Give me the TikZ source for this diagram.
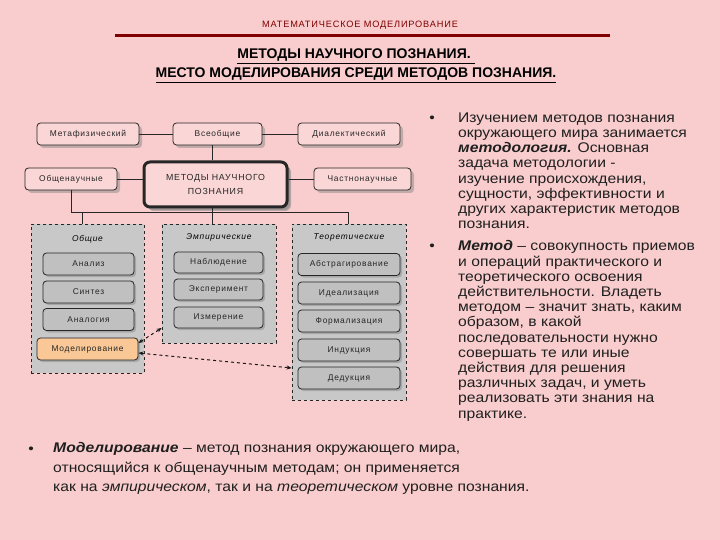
\documentclass[tikz,border=0pt]{standalone}
\usepackage{fontspec}
\setmainfont{Liberation Sans}
\newfontfamily\bodyfont{Liberation Sans}[FakeStretch=1.12]
\newfontfamily\diafont{Liberation Sans}[LetterSpace=9]
\usetikzlibrary{shadows,arrows.meta}
\definecolor{bgpink}{RGB}{249,205,205}
\definecolor{boxpink}{RGB}{251,214,214}
\definecolor{grpgray}{RGB}{200,200,200}
\definecolor{itemgray}{RGB}{192,192,192}
\definecolor{modorange}{RGB}{250,200,150}
\definecolor{maroon}{RGB}{128,0,0}
\tikzset{
  dia/.style={font=\diafont\fontsize{8.4}{10}\selectfont, text=black!85},
  pinkbox/.style={dia, draw=black!85, line width=0.8pt, rounded corners=3.5pt, fill=boxpink,
    drop shadow={shadow xshift=3pt, shadow yshift=-3pt, opacity=0.45}, inner sep=1pt},
  grpbox/.style={draw=black!85, dashed, line width=0.7pt, fill=grpgray, inner sep=0pt},
  itembox/.style={dia, draw=black!85, line width=0.8pt, rounded corners=3.5pt, fill=itemgray,
    drop shadow={shadow xshift=2pt, shadow yshift=-2pt, opacity=0.45}, inner sep=1pt},
  grplabel/.style={font=\diafont\fontsize{8.4}{10}\selectfont\itshape},
  conn/.style={draw=black!85, line width=0.7pt},
  darr/.style={draw=black!90, dashed, line width=1pt, {Stealth[length=5pt,width=4pt]}-{Stealth[length=5pt,width=4pt]}},
  body/.style={font=\bodyfont\fontsize{14}{15.2}\selectfont, align=left, inner sep=0pt, text=black!88},
}
\begin{document}
\begin{tikzpicture}[x=1pt,y=-1pt]
\fill[bgpink] (0,0) rectangle (720,540);
\useasboundingbox (0,0) rectangle (720,540);
% header
\node[font=\diafont\fontsize{9.2}{11}\selectfont, text=maroon] (hdr) at (360,25) {МАТЕМАТИЧЕСКОЕ МОДЕЛИРОВАНИЕ};
\coordinate (hl1) at (115,36);
\coordinate (hl2) at (610,36);
\draw[maroon, line width=3pt] (hl1) -- (hl2);
\node[font=\fontsize{14}{19}\selectfont\bfseries, align=center] (title) at (356,66)
  {\underline{МЕТОДЫ НАУЧНОГО ПОЗНАНИЯ. }\\\underline{МЕСТО МОДЕЛИРОВАНИЯ СРЕДИ МЕТОДОВ ПОЗНАНИЯ.}};
% top boxes
\node[pinkbox, minimum width=102pt, minimum height=22pt] (meta) at (88,134) {Метафизический};
\node[pinkbox, minimum width=89pt, minimum height=22pt] (vseob) at (217.5,134) {Всеобщие};
\node[pinkbox, minimum width=102pt, minimum height=22pt] (dial) at (349,134) {Диалектический};
\node[pinkbox, minimum width=92pt, minimum height=22pt] (obsch) at (71,179) {Общенаучные};
\node[pinkbox, minimum width=97pt, minimum height=22pt] (chast) at (362.5,179) {Частнонаучные};
\node[pinkbox, line width=3pt, rounded corners=6pt, minimum width=143pt, minimum height=45pt, align=center,
  font=\diafont\fontsize{8.8}{14}\selectfont, drop shadow={shadow xshift=4pt, shadow yshift=-4pt, opacity=0.5}]
  (metody) at (215.5,184.5) {МЕТОДЫ НАУЧНОГО\\ПОЗНАНИЯ};
% connectors top
\coordinate (vx) at (212,0);
\coordinate (bus) at (0,212);
\draw[conn] (meta) -- (vseob);
\draw[conn] (vseob) -- (dial);
\draw[conn] (vseob.south -| vx) -- (metody.north -| vx);
\draw[conn] (obsch.east) -- (obsch.east -| metody.west);
\draw[conn] (chast.west) -- (chast.west -| metody.east);
% groups
\node[grpbox, minimum width=113pt, minimum height=149pt] (grpA) at (87.5,298.5) {};
\node[grpbox, minimum width=114pt, minimum height=119pt] (grpE) at (219,283.5) {};
\node[grpbox, minimum width=114pt, minimum height=176pt] (grpT) at (349,312) {};
\node[grplabel] (labA) at (87.5,239) {Общие};
\node[grplabel] (labE) at (219,237) {Эмпирические};
\node[grplabel] (labT) at (349,237) {Теоретические};
% bus connectors
\coordinate (ax) at (82,0);
\coordinate (tx) at (348,0);
\draw[conn] (obsch.south) -- (obsch.south |- bus) -- (tx |- bus);
\draw[conn] (metody.south -| vx) -- (vx |- bus);
\draw[conn] (ax |- bus) -- (ax |- grpA.north);
\draw[conn] (vx |- bus) -- (vx |- grpE.north);
\draw[conn] (tx |- bus) -- (tx |- grpT.north);
% items
\node[itembox, minimum width=91pt, minimum height=22pt] (analiz) at (88.5,264) {Анализ};
\node[itembox, minimum width=91pt, minimum height=22pt] (sintez) at (88.5,292) {Синтез};
\node[itembox, minimum width=91pt, minimum height=22pt] (analog) at (88.5,319.5) {Аналогия};
\node[itembox, fill=modorange, minimum width=101pt, minimum height=22pt] (model) at (87.5,349) {Моделирование};
\node[itembox, minimum width=89pt, minimum height=21pt] (nabl) at (218.5,262.5) {Наблюдение};
\node[itembox, minimum width=89pt, minimum height=21pt] (eksp) at (218.5,289.5) {Эксперимент};
\node[itembox, minimum width=89pt, minimum height=21pt] (izm) at (218.5,317.5) {Измерение};
\node[itembox, minimum width=102pt, minimum height=22pt] (abstr) at (349,264.5) {Абстрагирование};
\node[itembox, minimum width=102pt, minimum height=22pt] (ideal) at (349,293) {Идеализация};
\node[itembox, minimum width=102pt, minimum height=22pt] (formal) at (349,321) {Формализация};
\node[itembox, minimum width=102pt, minimum height=22pt] (induk) at (349,350) {Индукция};
\node[itembox, minimum width=102pt, minimum height=22pt] (deduk) at (349,378) {Дедукция};
% dashed arrows
\draw[darr] ([yshift=6pt]model.east) -- ([yshift=-44.5pt]grpE.west);
\draw[darr] ([yshift=-4pt]model.east) -- ([yshift=-56pt]grpT.west);
% right text
\node[body, anchor=base] (b1) at (432,123) {•};
\node[body, anchor=base] (b2) at (432,251) {•};
\node[body, anchor=north west] (p1) at (458,112.5) {Изучением методов познания\\окружающего мира занимается\\\textbf{\textit{методология.}} Основная\\задача методологии -\\изучение происхождения,\\сущности, эффективности и\\других характеристик методов\\познания.};
\node[body, anchor=north west] (p2) at (458,240.5) {\textbf{\textit{Метод}} – совокупность приемов\\и операций практического и\\теоретического освоения\\действительности. Владеть\\методом – значит знать, каким\\образом, в какой\\последовательности нужно\\совершать те или иные\\действия для решения\\различных задач, и уметь\\реализовать эти знания на\\практике.};
% bottom text
\node[body, anchor=base] (b3) at (31,453) {•};
\node[body, anchor=north west, font=\bodyfont\fontsize{14}{19.5}\selectfont] (p3) at (53,442.5) {\textbf{\textit{Моделирование}} – метод познания окружающего мира,\\относящийся к общенаучным методам; он применяется\\как на \textit{эмпирическом}, так и на \textit{теоретическом} уровне познания.};
\end{tikzpicture}
\end{document}
